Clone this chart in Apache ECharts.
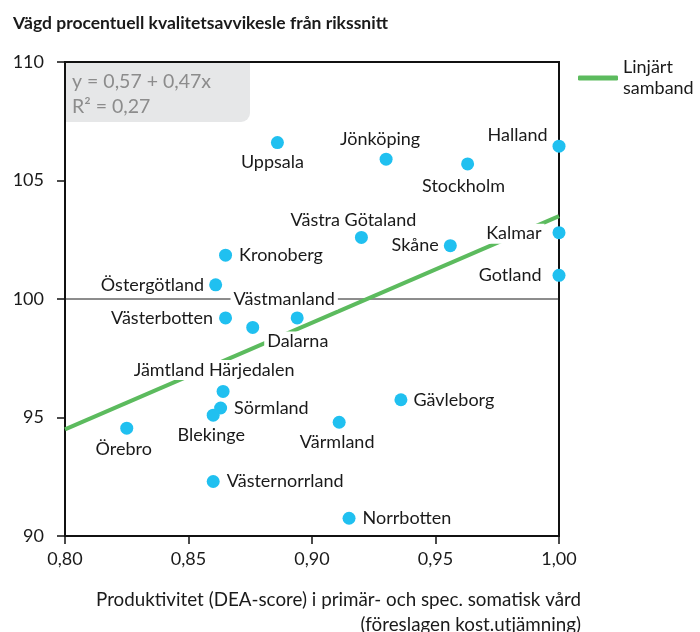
<!DOCTYPE html>
<html>
<head>
<meta charset="utf-8">
<script src="https://cdn.jsdelivr.net/npm/echarts@6/dist/echarts.min.js"></script>
<style>
  html, body { margin: 0; padding: 0; background: #fff; }
  #chart { width: 700px; height: 632px; }
</style>
</head>
<body>
<div id="chart"></div>
<script>
// Län (regions), productivity score and weighted quality deviation
const regions = ['Uppsala', 'Jönköping', 'Stockholm', 'Halland', 'Västra Götaland', 'Skåne',
  'Kalmar', 'Gotland', 'Kronoberg', 'Östergötland', 'Västerbotten', 'Dalarna', 'Västmanland',
  'Jämtland Härjedalen', 'Sörmland', 'Blekinge', 'Örebro', 'Gävleborg', 'Värmland',
  'Västernorrland', 'Norrbotten'];
const productivity = [0.886, 0.930, 0.963, 1.000, 0.920, 0.956, 1.000, 1.000, 0.865, 0.861,
  0.865, 0.876, 0.894, 0.864, 0.863, 0.860, 0.825, 0.936, 0.911, 0.860, 0.915];
const quality = [106.6, 105.9, 105.7, 106.45, 102.6, 102.25, 102.8, 101.0, 101.85, 100.6,
  99.2, 98.8, 99.2, 96.1, 95.4, 95.1, 94.55, 95.75, 94.8, 92.3, 90.75];

// Linear fit drawn across the axis range
const trendX = [0.80, 1.00];
const trendY = [94.5, 103.5];
const baselineY = 100;

// Tick labels
const xTickValues = [0.80, 0.85, 0.90, 0.95, 1.00];
const xTickLabels = ['0,80', '0,85', '0,90', '0,95', '1,00'];
const yTickValues = [90, 95, 100, 105, 110];
const yTickLabels = ['90', '95', '100', '105', '110'];

const titleText = 'Vägd procentuell kvalitetsavvikesle från rikssnitt';
const xAxisTitle = 'Produktivitet (DEA-score) i primär- och spec. somatisk vård\n(föreslagen kost.utjämning)';
const fitName = 'Linjärt\nsamband';
const fitText = 'y = 0,57 + 0,47x\nR² = 0,27';

// Label placement per region: [position, distance, dx, dy]
const labelSpots = {
  'Uppsala': ['bottom', 3, -5, 0],
  'Jönköping': ['top', 3, -6, 0],
  'Stockholm': ['bottom', 6, -4, 0],
  'Halland': ['left', 2, 0, -11],
  'Västra Götaland': ['top', 1, -8, 0],
  'Skåne': ['left', 2, 0, 0],
  'Kalmar': ['left', 8, 0, 1],
  'Gotland': ['left', 8, 0, 0],
  'Kronoberg': ['right', 4, 0, 0],
  'Östergötland': ['left', 2, 0, 0],
  'Västerbotten': ['left', 3, 0, 0],
  'Dalarna': ['right', 5, 0, 14],
  'Västmanland': ['top', 2, -13, 0],
  'Jämtland Härjedalen': ['top', 5, -9, 0],
  'Sörmland': ['right', 4, 0, 0],
  'Blekinge': ['bottom', 4, -2, 0],
  'Örebro': ['bottom', 5, -3, 0],
  'Gävleborg': ['right', 3, 0, 0],
  'Värmland': ['bottom', 3, -2, 0],
  'Västernorrland': ['right', 4, 0, 0],
  'Norrbotten': ['right', 4, 0, 0]
};

const FONT = 'Lato, "Noto Sans", sans-serif';

const points = regions.map((name, i) => {
  const s = labelSpots[name];
  return {
    name: name,
    value: [productivity[i], quality[i]],
    label: { position: s[0], distance: s[1] }
  };
});

function tickLabel(values, labels) {
  return function (v) {
    for (let i = 0; i < values.length; i++) {
      if (Math.abs(values[i] - v) < 1e-6) return labels[i];
    }
    return '';
  };
}

const chart = echarts.init(document.getElementById('chart'), null, { renderer: 'canvas' });

chart.setOption({
  animation: false,
  backgroundColor: '#fff',
  title: {
    text: titleText,
    left: 8,
    top: 9,
    textStyle: { fontFamily: FONT, fontSize: 17.5, fontWeight: 'bold', color: '#1a1a1a' }
  },
  legend: {
    data: [fitName],
    left: 573,
    top: 52,
    orient: 'vertical',
    icon: 'roundRect',
    itemWidth: 40,
    itemHeight: 5,
    itemGap: 10,
    textStyle: { fontFamily: FONT, fontSize: 18, color: '#1a1a1a', lineHeight: 21 }
  },
  grid: {
    left: 65, right: 141, top: 62, bottom: 96,
    containLabel: false,
    outerBoundsMode: 'none',
    show: true, borderColor: '#111', borderWidth: 2, backgroundColor: 'transparent'
  },
  xAxis: {
    type: 'value',
    min: 0.80, max: 1.00, interval: 0.05,
    axisLine: { show: true, onZero: false, lineStyle: { color: '#111', width: 2 } },
    axisTick: { show: true, length: 8, lineStyle: { color: '#111', width: 1.5 } },
    axisLabel: {
      margin: 14, fontFamily: FONT, fontSize: 18, color: '#1a1a1a',
      formatter: tickLabel(xTickValues, xTickLabels)
    },
    splitLine: { show: false }
  },
  yAxis: {
    type: 'value',
    min: 90, max: 110, interval: 5,
    axisLine: { show: true, onZero: false, lineStyle: { color: '#111', width: 2 } },
    axisTick: { show: true, length: 8, lineStyle: { color: '#111', width: 1.5 } },
    axisLabel: {
      margin: 21, fontFamily: FONT, fontSize: 18, color: '#1a1a1a',
      formatter: tickLabel(yTickValues, yTickLabels)
    },
    splitLine: { show: false }
  },
  graphic: [
    {
      type: 'rect',
      left: 66, top: 63,
      shape: { width: 184, height: 59, r: [0, 0, 9, 0] },
      style: { fill: '#e6e7e8' },
      z: 1
    },
    {
      type: 'text',
      left: 72, top: 69,
      style: {
        text: fitText, fontFamily: FONT, fontSize: 19.5, lineHeight: 25, fill: '#8c8c8c'
      },
      z: 2
    },
    {
      // x-axis title, right-aligned under the axis end
      type: 'text',
      x: 581, y: 587,
      style: {
        text: xAxisTitle, fontFamily: FONT, fontSize: 18.8, lineHeight: 25,
        fill: '#1a1a1a', align: 'right', verticalAlign: 'top'
      },
      z: 2
    }
  ],
  series: [
    {
      name: 'baseline',
      type: 'line',
      data: [[trendX[0], baselineY], [trendX[1], baselineY]],
      symbol: 'none',
      silent: true,
      lineStyle: { color: '#1a1a1a', width: 1 },
      z: 2
    },
    {
      name: fitName,
      type: 'line',
      data: trendX.map((x, i) => [x, trendY[i]]),
      symbol: 'none',
      silent: true,
      color: '#5cbb5e',
      lineStyle: { color: '#5cbb5e', width: 4 },
      z: 3
    },
    {
      name: 'Län',
      type: 'scatter',
      data: points,
      symbol: 'circle',
      symbolSize: 13,
      itemStyle: { color: '#20c0f0', opacity: 1 },
      label: {
        show: true,
        formatter: '{b}',
        fontFamily: FONT,
        fontSize: 18,
        color: '#1a1a1a',
        backgroundColor: '#fff',
        padding: [1, 3]
      },
      labelLayout: function (p) {
        const s = labelSpots[regions[p.dataIndex]];
        return { dx: s[2], dy: s[3], hideOverlap: false };
      },
      z: 5
    }
  ]
});
</script>
</body>
</html>
